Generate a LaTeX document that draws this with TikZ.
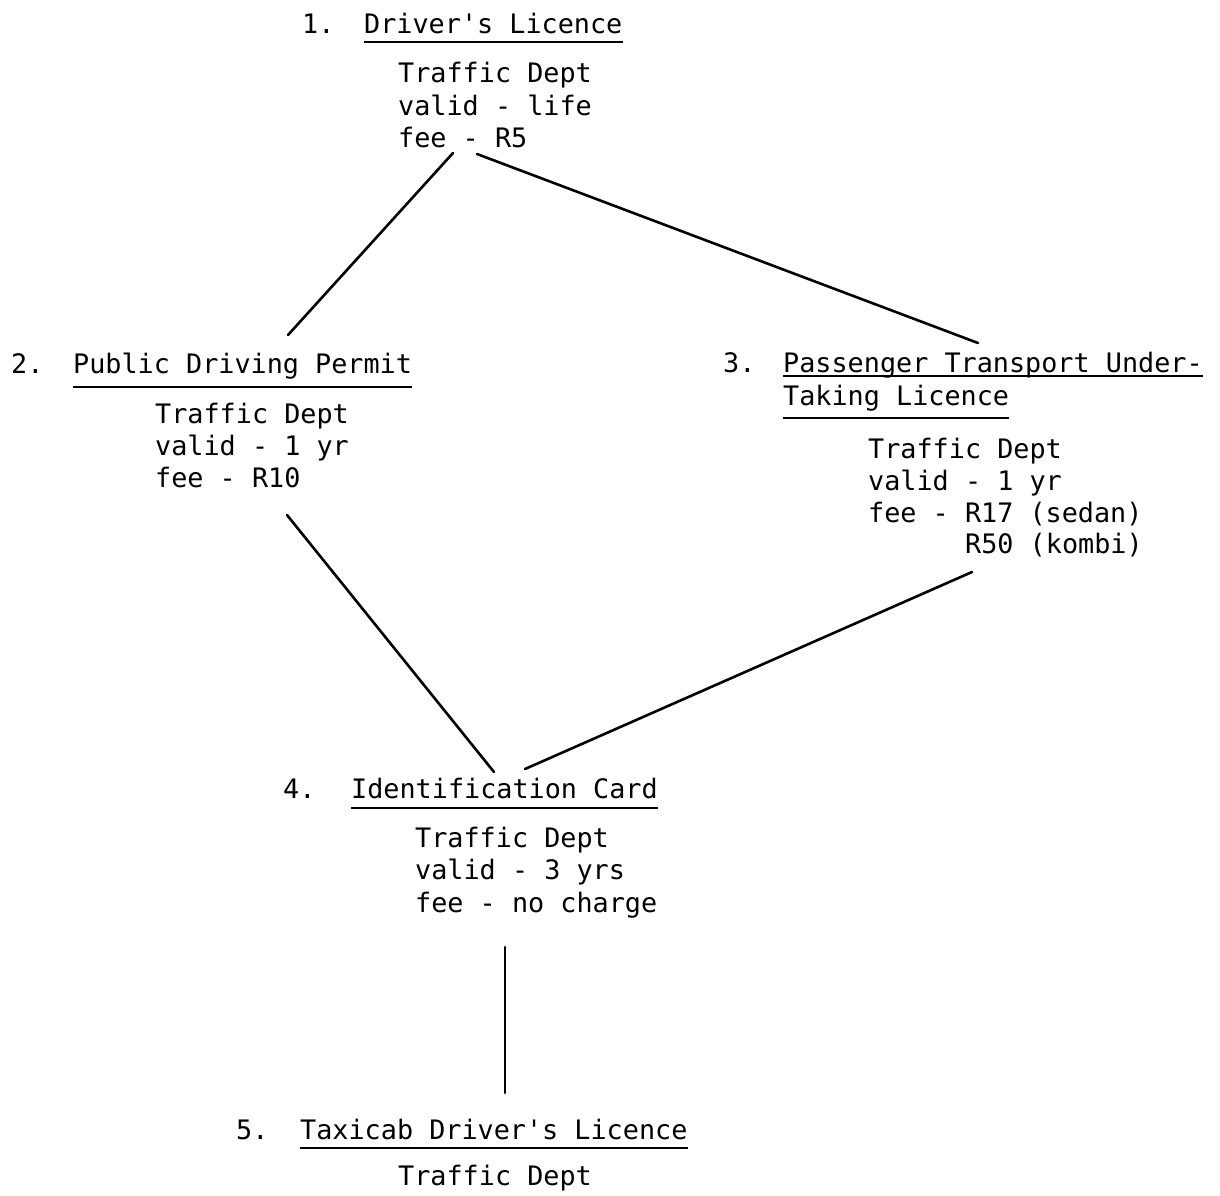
\documentclass[tikz,border=0pt]{standalone}
\usepackage{fontspec}
\newfontfamily\twfont{DejaVu Sans Mono}
\tikzset{
  tw/.style={font=\twfont\fontsize{26.8}{31}\selectfont, inner sep=0pt, anchor=base west},
  conn/.style={line width=2.6pt, line cap=round},
  uline/.style={line width=1.7pt}
}
\begin{document}
\begin{tikzpicture}[x=1pt,y=-1pt]
\useasboundingbox (0,0) rectangle (1220,1195);
% node 1
\node[tw] (n1) at (302,33) {1.};
\node[tw] (t1) at (364,33) {Driver's Licence};
\node[tw] (d1a) at (398,82) {Traffic Dept};
\node[tw] (d1b) at (398,115) {valid - life};
\node[tw] (d1c) at (398,147) {fee - R5};
% node 2
\node[tw] (n2) at (11,373) {2.};
\node[tw] (t2) at (73,373) {Public Driving Permit};
\node[tw] (d2a) at (155,423) {Traffic Dept};
\node[tw] (d2b) at (155,455) {valid - 1 yr};
\node[tw] (d2c) at (155,487) {fee - R10};
% node 3
\node[tw] (n3) at (723,372) {3.};
\node[tw] (t3a) at (783,372) {Passenger Transport Under-};
\node[tw] (t3b) at (783,405) {Taking Licence};
\node[tw] (d3a) at (868,458) {Traffic Dept};
\node[tw] (d3b) at (868,490) {valid - 1 yr};
\node[tw] (d3c) at (868,522) {fee - R17 (sedan)};
\node[tw] (d3d) at (965,553) {R50 (kombi)};
% node 4
\node[tw] (n4) at (283,798) {4.};
\node[tw] (t4) at (351,798) {Identification Card};
\node[tw] (d4a) at (415,847) {Traffic Dept};
\node[tw] (d4b) at (415,879) {valid - 3 yrs};
\node[tw] (d4c) at (415,912) {fee - no charge};
% node 5
\node[tw] (n5) at (236,1139) {5.};
\node[tw] (t5) at (300,1139) {Taxicab Driver's Licence};
\node[tw] (d5a) at (398,1185) {Traffic Dept};
% underlines
\draw[uline] ([yshift=-9pt]t1.base west) -- ([yshift=-9pt]t1.base east);
\draw[uline] ([yshift=-14pt]t2.base west) -- ([yshift=-14pt]t2.base east);
\draw[uline] ([yshift=-4pt]t3a.base west) -- ([yshift=-4pt]t3a.base east);
\draw[uline] ([yshift=-13pt]t3b.base west) -- ([yshift=-13pt]t3b.base east);
\draw[uline] ([yshift=-10pt]t4.base west) -- ([yshift=-10pt]t4.base east);
\draw[uline] ([yshift=-9pt]t5.base west) -- ([yshift=-9pt]t5.base east);
% connectors
\draw[conn] ([shift={(55,6)}]d1c.base west) -- ([shift={(215,-38)}]t2.base west);
\draw[conn] ([shift={(79,7)}]d1c.base west) -- ([shift={(195,-29)}]t3a.base west);
\draw[conn] ([shift={(132,28)}]d2c.base west) -- ([shift={(143,-26)}]t4.base west);
\draw[conn] ([shift={(7,19)}]d3d.base west) -- ([shift={(174,-29)}]t4.base west);
\draw[conn] ([shift={(90,35)}]d4c.base west) -- ([shift={(205,-46)}]t5.base west);
\end{tikzpicture}
\end{document}
